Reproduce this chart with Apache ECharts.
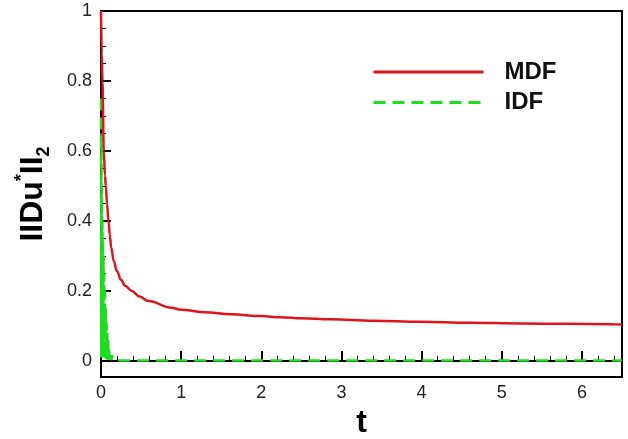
<!DOCTYPE html>
<html>
<head>
<meta charset="utf-8">
<script src="https://cdn.jsdelivr.net/npm/echarts@6/dist/echarts.min.js"></script>
<style>html,body{margin:0;padding:0;background:#fff;}#c{width:628px;height:439px;}</style>
</head>
<body>
<div id="c"></div>
<script>
// Data
const mdfT = [0, 0.01, 0.018, 0.035, 0.05, 0.06, 0.075, 0.093, 0.11, 0.127, 0.16, 0.197, 0.25, 0.3, 0.385, 0.48, 0.59, 0.88, 1.0, 1.3, 1.62, 2.0, 2.24, 2.5, 2.86, 3.4, 3.98, 4.6, 5.23, 5.8, 6.39, 6.5];
const mdfV = [1.0, 0.88, 0.8, 0.6, 0.53, 0.5, 0.45, 0.4, 0.36, 0.324, 0.285, 0.257, 0.232, 0.215, 0.2, 0.184, 0.171, 0.152, 0.146, 0.139, 0.133, 0.128, 0.125, 0.122, 0.119, 0.115, 0.112, 0.109, 0.107, 0.106, 0.105, 0.104];
const idfT = [0, 0.003, 0.006, 0.009, 0.012, 0.015, 0.018, 0.021, 0.024, 0.028, 0.032, 0.036, 0.04, 0.045, 0.05, 0.055, 0.06, 0.065, 0.07, 0.075, 0.08, 0.085, 0.09, 0.095, 0.1, 0.11, 0.12, 0.13, 0.14, 0.16, 0.2, 0.5, 1, 2, 3, 4, 5, 6, 6.5];
const idfV = [0.75, 0.01, 0.65, 0.01, 0.5, 0.01, 0.4, 0.01, 0.35, 0.01, 0.3, 0.01, 0.25, 0.005, 0.2, 0.005, 0.15, 0.005, 0.11, 0.004, 0.08, 0.003, 0.06, 0.003, 0.04, 0.003, 0.025, 0.002, 0.015, 0.002, 0.001, 0.001, 0.001, 0.001, 0.001, 0.001, 0.001, 0.001, 0.001];
const xTicks = [0, 1, 2, 3, 4, 5, 6];
const xMinor = [0.2, 0.4, 0.6, 0.8, 1.2, 1.4, 1.6, 1.8, 2.2, 2.4, 2.6, 2.8, 3.2, 3.4, 3.6, 3.8, 4.2, 4.4, 4.6, 4.8, 5.2, 5.4, 5.6, 5.8, 6.2, 6.4];
const yTicks = [0, 0.2, 0.4, 0.6, 0.8, 1];
const yMinor = [0.05, 0.1, 0.15, 0.25, 0.3, 0.35, 0.45, 0.5, 0.55, 0.65, 0.7, 0.75, 0.85, 0.9, 0.95];

const zip = (a, b) => a.map((v, i) => [v, b[i]]);
const chart = echarts.init(document.getElementById('c'));
const FF = 'Liberation Sans, Arial, sans-serif';
const labelStyle = { color: '#222', fontSize: 18, fontFamily: FF };
const YMIN = -0.046;
chart.setOption({
  animation: false,
  grid: { left: 101, right: 6, top: 11, bottom: 62, show: true, borderColor: '#000', borderWidth: 2, outerBoundsMode: 'none', containLabel: false },
  legend: {
    orient: 'vertical', left: 367, top: 54, itemWidth: 110, itemHeight: 26, itemGap: 4.5,
    data: ['MDF', 'IDF'],
    itemStyle: { opacity: 0 },
    lineStyle: { width: 3 },
    textStyle: { color: '#111', fontSize: 24, fontWeight: 'bold', lineHeight: 26, fontFamily: FF, padding: [0, 0, 0, 16] }
  },
  xAxis: [{
    type: 'value', min: 0, max: 6.5,
    name: 't', nameLocation: 'middle', nameGap: 28,
    nameTextStyle: { color: '#000', fontSize: 32, fontWeight: 'bold', fontFamily: FF },
    axisLine: { show: true, lineStyle: { color: '#000', width: 2 } },
    axisTick: { show: true, inside: true, length: 10, lineStyle: { color: '#000', width: 2 }, customValues: xTicks },
    axisLabel: Object.assign({ margin: 7, customValues: xTicks }, labelStyle),
    splitLine: { show: false }
  }, {
    type: 'value', min: 0, max: 6.5, position: 'bottom',
    axisLine: { show: false },
    axisTick: { show: true, inside: true, length: 5, lineStyle: { color: '#000', width: 1 }, customValues: xMinor },
    axisLabel: { show: false },
    splitLine: { show: false }
  }],
  yAxis: [{
    type: 'value', min: YMIN, max: 1,
    name: '{b|IIDu}{sup|*}{b|II}{sub|2}', nameLocation: 'middle', nameGap: 48, nameRotate: 90,
    nameTextStyle: {
      rich: {
        b: { fontSize: 32, fontWeight: 'bold', color: '#000', lineHeight: 40, fontFamily: FF },
        sup: { fontSize: 18, fontWeight: 'bold', color: '#000', verticalAlign: 'top', lineHeight: 40, fontFamily: FF },
        sub: { fontSize: 18, fontWeight: 'bold', color: '#000', verticalAlign: 'bottom', lineHeight: 40, fontFamily: FF }
      }
    },
    axisLine: { show: true, lineStyle: { color: '#000', width: 2 } },
    axisTick: { show: true, inside: true, length: 10, lineStyle: { color: '#000', width: 2 }, customValues: yTicks },
    axisLabel: Object.assign({ margin: 9, customValues: yTicks }, labelStyle),
    splitLine: { show: false }
  }, {
    type: 'value', min: YMIN, max: 1, position: 'left',
    axisLine: { show: false },
    axisTick: { show: true, inside: true, length: 5, lineStyle: { color: '#000', width: 1 }, customValues: yMinor },
    axisLabel: { show: false },
    splitLine: { show: false }
  }],
  series: [{
    name: 'MDF', type: 'line', data: zip(mdfT, mdfV), symbol: 'none', showSymbol: false,
    smooth: 0.4, smoothMonotone: 'x',
    lineStyle: { color: '#e0141b', width: 2.5 }, itemStyle: { color: '#e0141b' }, z: 3
  }, {
    name: 'IDF', type: 'line', data: zip(idfT, idfV), symbol: 'none', showSymbol: false,
    lineStyle: { color: '#1edc1e', width: 2.5, type: [12, 7] }, itemStyle: { color: '#1edc1e' }, z: 2
  }]
});
</script>
</body>
</html>
